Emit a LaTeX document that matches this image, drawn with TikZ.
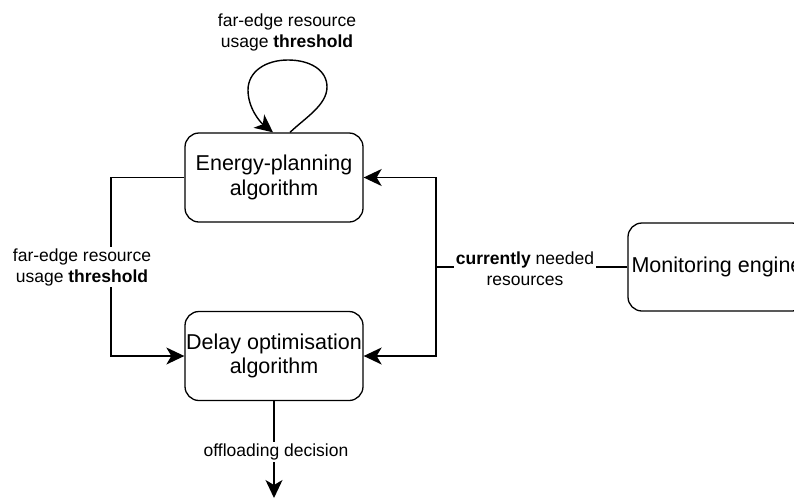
\documentclass[tikz,border=0pt]{standalone}
\usepackage{fontspec}
\setmainfont{Liberation Sans}
\usetikzlibrary{arrows.meta,calc}
\begin{document}
\begin{tikzpicture}[x=1pt,y=-1pt,
  block/.style={draw, line width=1.3pt, rounded corners=14pt, minimum width=178pt,
    minimum height=89pt, align=center, inner sep=0pt,
    font=\fontsize{21.5}{24.5}\selectfont},
  wire/.style={line width=1.4pt},
  tip/.style={-{Stealth[length=18pt,width=17pt,inset=5pt]}},
  lab/.style={fill=white, align=center, inner sep=1.5pt,
    font=\fontsize{17.5}{21}\selectfont}]
\useasboundingbox (0,0) rectangle (794,499);
\clip (0,0) rectangle (794,499);

% blocks
\node[block] (ep) at (274,177.5) {Energy-planning\\algorithm};
\node[block] (do) at (274,356) {Delay optimisation\\algorithm};
\node[block, minimum height=88pt] (mon) at (717,267) {Monitoring engine};

% helper points
\coordinate (j) at (436,267);
\coordinate (lft) at (111,267);
\coordinate (out) at (274,498);
\coordinate (loopout) at ($(ep.north)+(16,0)$);
\coordinate (loopin) at ($(ep.north)+(-1,0)$);

% self loop on the energy planner
\draw[wire, tip] (loopout) .. controls (305,118) and (327,105) .. (327,87)
  .. controls (327,70) and (310,60) .. (288,60)
  .. controls (265,60) and (248,72) .. (248,90)
  .. controls (248,108) and (260,122) .. (loopin);
\node[lab] (toplab) at (287,32) {far-edge resource\\usage \textbf{threshold}};

% threshold handed from planner to optimiser
\draw[wire, tip] (ep.west) -| (lft) |- (do.west);
\node[lab] (leftlab) at (82,267) {far-edge resource\\usage \textbf{threshold}};

% monitoring feed
\draw[wire] (mon.west) -- (j);
\draw[wire, tip] (j) |- (ep.east);
\draw[wire, tip] (j) |- (do.east);
\node[lab] (monlab) at (525,269) {\textbf{currently} needed\\resources};

% output
\draw[wire, tip] (do.south) -- (out);
\node[lab] (outlab) at (276,452) {offloading decision};
\end{tikzpicture}
\end{document}
